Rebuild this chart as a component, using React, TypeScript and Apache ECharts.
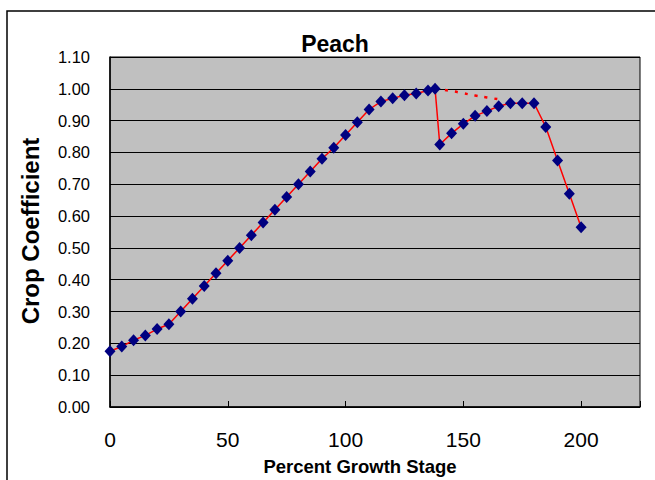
import React, { useEffect, useRef } from "react";
import * as echarts from "echarts";

const growthStage = [
  0, 5, 10, 15, 20, 25, 30, 35, 40, 45, 50, 55, 60, 65, 70, 75, 80, 85, 90, 95,
  100, 105, 110, 115, 120, 125, 130, 135, 138, 140, 145, 150, 155, 160, 165,
  170, 175, 180, 185, 190, 195, 200,
];
const cropCoef = [
  0.175, 0.19, 0.21, 0.225, 0.245, 0.26, 0.3, 0.34, 0.38, 0.42, 0.46, 0.5,
  0.54, 0.58, 0.62, 0.66, 0.7, 0.74, 0.78, 0.815, 0.855, 0.895, 0.935, 0.96,
  0.97, 0.98, 0.985, 0.995, 1.0, 0.825, 0.86, 0.89, 0.915, 0.93, 0.945, 0.955,
  0.955, 0.955, 0.88, 0.775, 0.67, 0.565,
];
const dottedStage = [138, 145, 150, 155, 160, 165];
const dottedCoef = [1.0, 0.993, 0.986, 0.979, 0.973, 0.967];

const title = "Peach";
const xName = "Percent Growth Stage";
const yName = "Crop Coefficient";

export default function App() {
  const ref = useRef<HTMLDivElement>(null);
  useEffect(() => {
    if (!ref.current) return;
    const chart = echarts.init(ref.current, null, { renderer: "svg" });
    const font = "'Liberation Sans', Arial, sans-serif";
    chart.setOption({
      animation: false,
      backgroundColor: "#ffffff",
      textStyle: { fontFamily: font },
      grid: { left: 110, top: 57, right: 15, bottom: 73, show: true, backgroundColor: "#c0c0c0", borderColor: "#000", borderWidth: 1 },
      xAxis: {
        type: "value",
        min: 0,
        max: 225,
        interval: 50,
        axisLine: { show: true, onZero: false, lineStyle: { color: "#000", width: 1.5 } },
        axisTick: { show: true, inside: true, length: 6, lineStyle: { color: "#000" } },
        splitLine: { show: false },
        axisLabel: {
          color: "#000",
          fontSize: 21,
          fontFamily: font,
          margin: 22,
          formatter: (v: number) => (v % 50 === 0 ? String(v) : ""),
        },
      },
      yAxis: {
        type: "value",
        min: 0,
        max: 1.1,
        interval: 0.1,
        axisLine: { show: true, lineStyle: { color: "#000", width: 1.5 } },
        axisTick: { show: false },
        splitLine: { show: true, lineStyle: { color: "#000", width: 1 } },
        axisLabel: {
          color: "#000",
          fontSize: 16.5,
          fontFamily: font,
          margin: 20,
          formatter: (v: number) => v.toFixed(2),
        },
      },
      graphic: [
        { type: "rect", shape: { x: 7, y: 11, width: 700, height: 520 }, style: { fill: "none", stroke: "#000", lineWidth: 1.5 }, z: 100 },
        { type: "text", x: 335, y: 44, style: { text: title, fontSize: 23, fontWeight: "bold", fontFamily: font, fill: "#000", textAlign: "center", textVerticalAlign: "middle" } },
        { type: "text", x: 360, y: 466, style: { text: xName, fontSize: 18.5, fontWeight: "bold", fontFamily: font, fill: "#000", textAlign: "center", textVerticalAlign: "middle" } },
        { type: "text", x: 30, y: 231, rotation: Math.PI / 2, style: { text: yName, fontSize: 24, fontWeight: "bold", fontFamily: font, fill: "#000", textAlign: "center", textVerticalAlign: "middle" } },
      ],
      series: [
        {
          type: "line",
          data: dottedStage.map((x, i) => [x, dottedCoef[i]]),
          showSymbol: false,
          symbol: "none",
          smooth: true,
          lineStyle: { color: "#ff0000", width: 2.5, type: [3, 7] },
          z: 2,
        },
        {
          type: "line",
          data: growthStage.map((x, i) => [x, cropCoef[i]]),
          symbol: "diamond",
          symbolSize: [11, 12],
          itemStyle: { color: "#000080", borderWidth: 0 },
          lineStyle: { color: "#ff0000", width: 1.5 },
          z: 3,
        },
      ],
    });
    return () => chart.dispose();
  }, []);
  return <div ref={ref} style={{ position: "fixed", left: 0, top: 0, width: 655, height: 480 }} />;
}
